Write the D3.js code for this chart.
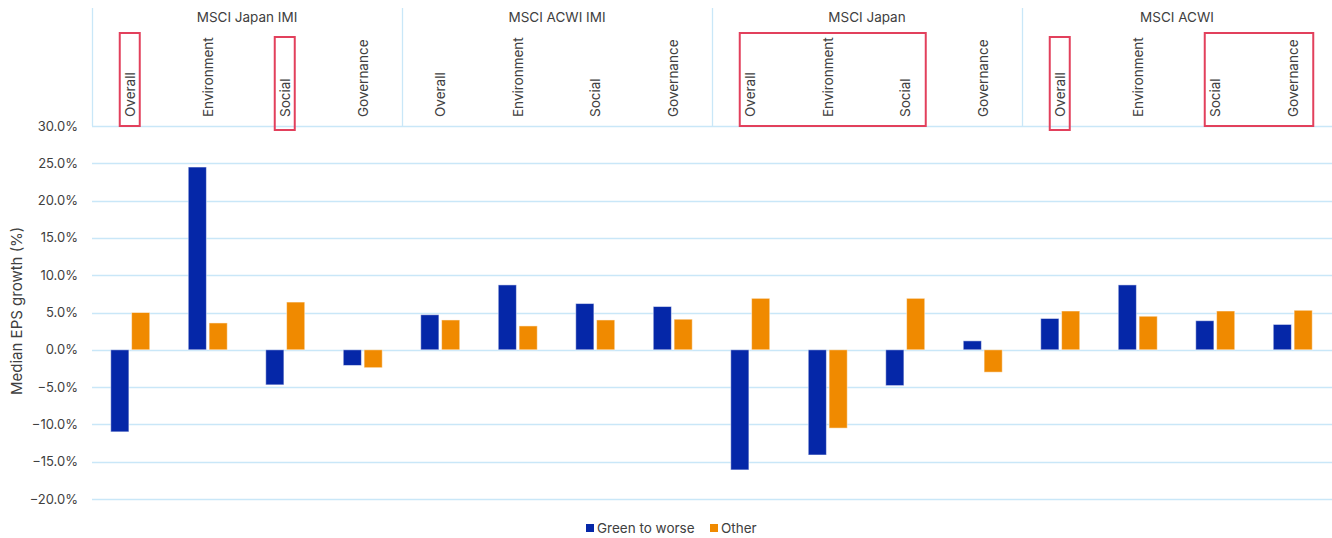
<!DOCTYPE html>
<html>
<head>
<meta charset="utf-8">
<script src="https://cdn.jsdelivr.net/npm/d3@7"></script>
<style>
  body { margin: 0; background: #fff; }
  svg text { font-family: Inter, "Noto Sans", sans-serif; fill: #404040; }
</style>
</head>
<body>
<div id="chart-container"></div>
<script>
var groups = ["MSCI Japan IMI", "MSCI ACWI IMI", "MSCI Japan", "MSCI ACWI"];
var pillars = ["Overall", "Environment", "Social", "Governance"];
var seriesNames = ["Green to worse", "Other"];
var seriesColors = ["#0527a8", "#f08a00"];

// values in %, one entry per group x pillar
var greenToWorse = [-11.0, 24.5, -4.7, -2.1,  4.7, 8.7, 6.2, 5.8,  -16.1, -14.1, -4.8, 1.2,  4.2, 8.7, 3.9, 3.4];
var other        = [  5.0,  3.6,  6.4, -2.4,  4.0, 3.2, 4.0, 4.1,    6.9, -10.5,  6.9, -3.0, 5.2, 4.5, 5.2, 5.3];

var yTicks = [30, 25, 20, 15, 10, 5, 0, -5, -10, -15, -20];

// red highlight boxes: group index, first and last pillar
var highlights = [
  {group: 0, from: 0, to: 0},
  {group: 0, from: 2, to: 2},
  {group: 2, from: 0, to: 2},
  {group: 3, from: 0, to: 0},
  {group: 3, from: 2, to: 3}
];

var width = 1332;
var height = 538;
var margin = {top: 126, right: 0, bottom: 39, left: 92};
var headerTop = 8;

var svg = d3.select("#chart-container")
    .append("svg")
    .attr("width", width)
    .attr("height", height);

var keys = [];
groups.forEach(function(g, gi) {
    pillars.forEach(function(p, pi) { keys.push(gi + "|" + pi); });
});

var data = keys.map(function(k, i) {
    return {key: k, group: +k.split("|")[0], pillar: +k.split("|")[1], values: [greenToWorse[i], other[i]]};
});

var x = d3.scaleBand()
    .domain(keys)
    .range([margin.left, width - margin.right]);

var xGroup = d3.scaleBand()
    .domain(groups)
    .range([margin.left, width - margin.right]);

var xSeries = d3.scaleBand()
    .domain([0, 1])
    .range([x.bandwidth() / 2 - 20, x.bandwidth() / 2 + 19])
    .paddingInner(0.13);

var y = d3.scaleLinear()
    .domain([-20, 30])
    .range([height - margin.bottom, margin.top]);

//gridlines
svg.append("g")
    .selectAll("line")
    .data(yTicks)
    .enter()
    .append("line")
    .attr("x1", margin.left)
    .attr("x2", width - margin.right)
    .attr("y1", function(d) { return Math.round(y(d)) + 0.5; })
    .attr("y2", function(d) { return Math.round(y(d)) + 0.5; })
    .style("stroke", "#c9e7f8")
    .style("stroke-width", 1.3);

//y tick labels
svg.append("g")
    .selectAll("text")
    .data(yTicks)
    .enter()
    .append("text")
    .attr("x", 78)
    .attr("y", function(d) { return y(d); })
    .attr("dy", "0.35em")
    .attr("text-anchor", "end")
    .style("font-size", "13px")
    .text(function(d) { return d3.format(".1f")(d) + "%"; });

//y axis title
svg.append("text")
    .attr("transform", "translate(22,395) rotate(-90)")
    .attr("text-anchor", "start")
    .style("font-size", "15px")
    .text("Median EPS growth (%)");

//group separators in the header
svg.append("g")
    .selectAll("line")
    .data(groups)
    .enter()
    .append("line")
    .attr("x1", function(d) { return Math.round(xGroup(d)) + 0.5; })
    .attr("x2", function(d) { return Math.round(xGroup(d)) + 0.5; })
    .attr("y1", headerTop)
    .attr("y2", margin.top)
    .style("stroke", "#c9e7f8")
    .style("stroke-width", 1.3);

//group labels
svg.append("g")
    .selectAll("text")
    .data(groups)
    .enter()
    .append("text")
    .attr("x", function(d) { return xGroup(d) + xGroup.bandwidth() / 2; })
    .attr("y", 22)
    .attr("text-anchor", "middle")
    .style("font-size", "13.5px")
    .text(function(d) { return d; });

//pillar labels, rotated
svg.append("g")
    .selectAll("text")
    .data(data)
    .enter()
    .append("text")
    .attr("transform", function(d) {
        return "translate(" + (x(d.key) + x.bandwidth() / 2 + 4.5) + ",117) rotate(-90)";
    })
    .attr("text-anchor", "start")
    .style("font-size", "13.5px")
    .text(function(d) { return pillars[d.pillar]; });

//bars
var cat = svg.append("g")
    .selectAll("g")
    .data(data)
    .enter()
    .append("g")
    .attr("transform", function(d) { return "translate(" + x(d.key) + ",0)"; });

cat.selectAll("rect")
    .data(function(d) { return d.values.map(function(v, i) { return {s: i, v: v}; }); })
    .enter()
    .append("rect")
    .attr("x", function(d) { return xSeries(d.s); })
    .attr("width", xSeries.bandwidth())
    .attr("y", function(d) { return y(Math.max(0, d.v)); })
    .attr("height", function(d) { return Math.abs(y(d.v) - y(0)); })
    .style("fill", function(d) { return seriesColors[d.s]; })
    .style("stroke", "#ffffff")
    .style("stroke-opacity", 0.5)
    .style("stroke-width", 1);

//highlight boxes
svg.append("g")
    .selectAll("rect")
    .data(highlights)
    .enter()
    .append("rect")
    .attr("x", function(d) { return x(d.group + "|" + d.from) + x.bandwidth() / 2 - 11; })
    .attr("width", function(d) {
        var extra = d.from === d.to ? 20 : 31;
        return x(d.group + "|" + d.to) - x(d.group + "|" + d.from) + extra;
    })
    .attr("y", function(d, i) { return i % 2 === 0 ? 33 : 37; })
    .attr("height", 93)
    .style("fill", "none")
    .style("stroke", "#e2405c")
    .style("stroke-width", 2);

//legend
var legend = svg.append("g")
    .attr("transform", "translate(586,528)");

var items = legend.selectAll("g")
    .data(seriesNames)
    .enter()
    .append("g")
    .attr("transform", function(d, i) { return "translate(" + (i * 124) + ",0)"; });

items.append("rect")
    .attr("x", 0)
    .attr("y", -4)
    .attr("width", 8)
    .attr("height", 8)
    .style("fill", function(d, i) { return seriesColors[i]; });

items.append("text")
    .attr("x", 11)
    .attr("dy", "0.35em")
    .style("font-size", "13.5px")
    .text(function(d) { return d; });
</script>
</body>
</html>
